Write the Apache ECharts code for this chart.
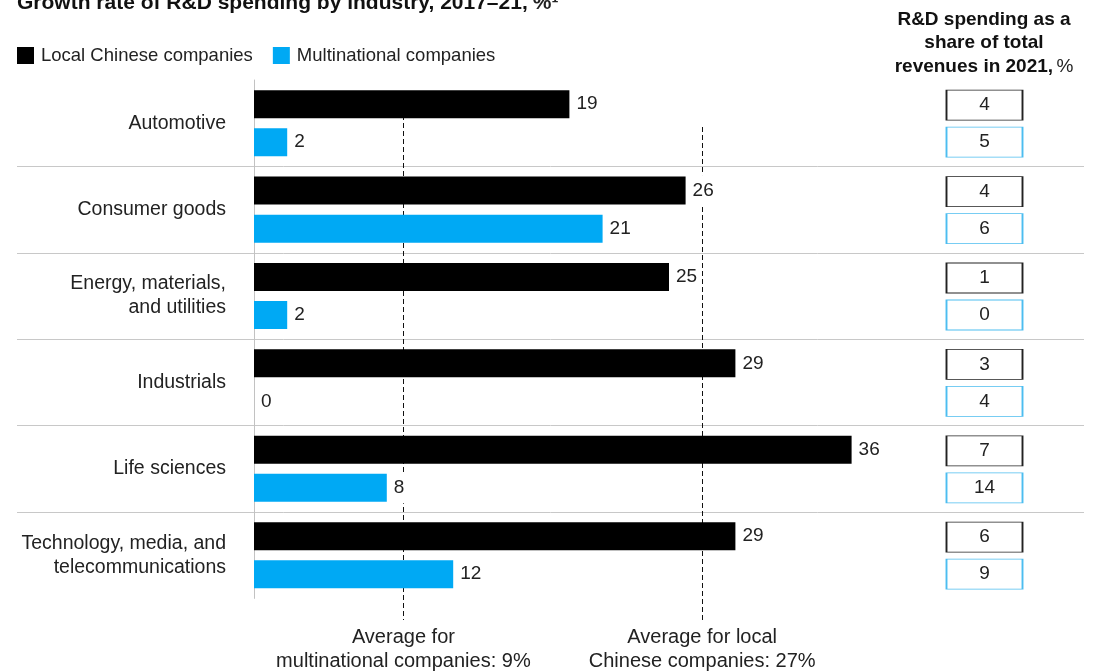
<!DOCTYPE html>
<html>
<head>
<meta charset="utf-8">
<script src="https://cdn.jsdelivr.net/npm/echarts@6/dist/echarts.min.js"></script>
<style>
  html, body { margin: 0; padding: 0; background: #fff; }
  #chart { width: 1096px; height: 671px; }
</style>
</head>
<body>
<div id="chart"></div>
<script>
// Industries, top to bottom
const industries = [
  'Automotive',
  'Consumer goods',
  'Energy, materials,\nand utilities',
  'Industrials',
  'Life sciences',
  'Technology, media, and\ntelecommunications'
];
const seriesNames = ['Local Chinese companies', 'Multinational companies'];

// Growth rate of R&D spending, 2017–21, %
const localGrowth = [19, 26, 25, 29, 36, 29];
const mncGrowth = [2, 21, 2, 0, 8, 12];

// R&D spending as a share of total revenues in 2021, %
const localShare = [4, 4, 1, 3, 7, 6];
const mncShare = [5, 6, 0, 4, 14, 9];

// Averages across industries, %
const avgLocal = 27;
const avgMnc = 9;

// Layout
const FONT = "'Liberation Sans', Arial, Helvetica, sans-serif";
const TEXT = '#222';
const BLACK = '#000000';
const CYAN = '#00a9f4';
const PLOT_TOP = 80;
const ROW_H = 86.4;
const ROWS = industries.length;

const chart = echarts.init(document.getElementById('chart'), null, { renderer: 'canvas' });

const boxSeries = (name, values, color, offsetY) => ({
  name: name,
  type: 'scatter',
  xAxisIndex: 2,
  yAxisIndex: 2,
  data: values.map((v, i) => [0, industries[i], v]),
  encode: { x: 0, y: 1 },
  symbol: 'rect',
  symbolSize: [76, 30],
  symbolOffset: [0, offsetY],
  itemStyle: { color: '#fff', borderColor: color, borderWidth: 1.2, opacity: 1 },
  label: {
    show: true,
    position: 'inside',
    formatter: p => String(p.value[2]),
    fontFamily: FONT,
    fontSize: 19,
    color: TEXT
  },
  silent: true,
  emphasis: { disabled: true }
});

// value labels sit on a white patch so the dashed average lines pass behind them
const valueLabel = {
  show: true,
  position: 'right',
  distance: 4,
  padding: [6, 3, 6, 3],
  backgroundColor: '#fff',
  fontFamily: FONT,
  fontSize: 19,
  color: TEXT
};

const dashed = { color: '#111', width: 1, type: [5, 3] };
const avgLabel = {
  show: true,
  position: 'end',
  distance: 5,
  fontFamily: FONT,
  fontSize: 20,
  lineHeight: 24,
  color: TEXT,
  align: 'center'
};

chart.setOption({
  animation: false,
  backgroundColor: '#fff',
  textStyle: { fontFamily: FONT },
  title: {
    left: 17,
    top: -7,
    padding: 0,
    text: '{b|Growth rate of R&D spending by industry, 2017–21,} {n|%¹}',
    textStyle: {
      rich: {
        b: { fontFamily: FONT, fontWeight: 'bold', fontSize: 21, color: '#111' },
        n: { fontFamily: FONT, fontSize: 21, color: TEXT }
      }
    }
  },
  graphic: [{
    type: 'text',
    x: 984,
    y: 43,
    silent: true,
    style: {
      text: '{b|R&D spending as a}\n{b|share of total}\n{b|revenues in 2021,} {n|%}',
      align: 'center',
      verticalAlign: 'middle',
      rich: {
        b: { fontFamily: FONT, fontWeight: 'bold', fontSize: 19, lineHeight: 23.5, fill: '#111', align: 'center' },
        n: { fontFamily: FONT, fontSize: 19, lineHeight: 23.5, fill: TEXT, align: 'center' }
      }
    }
  }],
  legend: {
    left: 17,
    top: 46,
    padding: 0,
    itemWidth: 17,
    itemHeight: 17,
    itemGap: 20,
    icon: 'rect',
    data: seriesNames,
    textStyle: { fontFamily: FONT, fontSize: 18.5, color: TEXT, padding: [0, 0, 0, 2] },
    selectedMode: false
  },
  grid: [
    { left: 254, top: PLOT_TOP, width: 664, height: ROW_H * ROWS },
    { left: 17, right: 12, top: PLOT_TOP + ROW_H, height: ROW_H * (ROWS - 2) },
    { left: 946, width: 77, top: PLOT_TOP, height: ROW_H * ROWS }
  ],
  xAxis: [
    { gridIndex: 0, type: 'value', min: 0, max: 40, show: false },
    { gridIndex: 1, type: 'value', min: 0, max: 1, show: false },
    { gridIndex: 2, type: 'value', min: -1, max: 1, show: false }
  ],
  yAxis: [
    {
      gridIndex: 0,
      type: 'category',
      data: industries,
      inverse: true,
      axisLine: { show: true, lineStyle: { color: '#c2c2c2', width: 1 } },
      axisTick: { show: false },
      splitLine: { show: false },
      axisLabel: {
        margin: 28,
        fontFamily: FONT,
        fontSize: 19.5,
        lineHeight: 24,
        color: TEXT,
        align: 'right'
      }
    },
    {
      // row separators between industries
      gridIndex: 1,
      type: 'category',
      data: industries.slice(1),
      inverse: true,
      boundaryGap: false,
      axisLine: { show: false },
      axisTick: { show: false },
      axisLabel: { show: false },
      splitLine: { show: true, interval: 0, lineStyle: { color: '#c8c8c8', width: 1 } }
    },
    {
      gridIndex: 2,
      type: 'category',
      data: industries,
      inverse: true,
      show: false
    }
  ],
  series: [
    {
      name: seriesNames[0],
      type: 'bar',
      data: localGrowth,
      barWidth: 28,
      barGap: '36%',
      clip: false,
      z: 3,
      itemStyle: { color: BLACK },
      label: valueLabel,
      emphasis: { disabled: true },
      markLine: {
        silent: true,
        z: 1,
        symbol: ['none', 'none'],
        lineStyle: dashed,
        emphasis: { disabled: true },
        label: Object.assign({}, avgLabel, {
          formatter: 'Average for local\nChinese companies: ' + avgLocal + '%'
        }),
        data: [[{ xAxis: avgLocal, y: PLOT_TOP + 47 }, { xAxis: avgLocal, y: 620 }]]
      }
    },
    {
      name: seriesNames[1],
      type: 'bar',
      data: mncGrowth,
      barWidth: 28,
      barGap: '36%',
      clip: false,
      z: 3,
      itemStyle: { color: CYAN },
      label: valueLabel,
      emphasis: { disabled: true },
      markLine: {
        silent: true,
        z: 1,
        symbol: ['none', 'none'],
        lineStyle: dashed,
        emphasis: { disabled: true },
        label: Object.assign({}, avgLabel, {
          formatter: 'Average for\nmultinational companies: ' + avgMnc + '%'
        }),
        data: [[{ xAxis: avgMnc, y: PLOT_TOP + 11 }, { xAxis: avgMnc, y: 620 }]]
      }
    },
    boxSeries('Local share of revenues', localShare, '#222', -18),
    boxSeries('Multinational share of revenues', mncShare, '#4cbdf0', 19)
  ]
});
</script>
</body>
</html>
